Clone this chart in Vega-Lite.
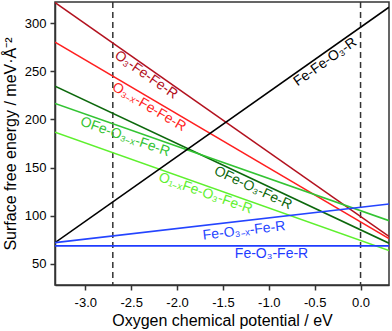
{
  "$schema": "https://vega.github.io/schema/vega-lite/v6.json",
  "width": 334,
  "height": 283,
  "autosize": {"type": "none"},
  "padding": {"left": 55, "top": 2, "right": 3, "bottom": 46},
  "config": {
    "font": "Liberation Sans",
    "view": {"stroke": "#333333", "strokeWidth": 1.5},
    "axis": {
      "grid": false,
      "domainColor": "#333333",
      "domainWidth": 1.5,
      "tickColor": "#333333",
      "tickWidth": 1.5,
      "tickSize": 5,
      "labelColor": "#000000",
      "titleColor": "#000000",
      "labelFontSize": 13,
      "titleFontSize": 16,
      "titleFontWeight": "normal"
    }
  },
  "datasets": {
    "lines": [
      {"series": "O3-Fe-Fe-R", "mu": -3.33, "gamma": 321.4},
      {"series": "O3-Fe-Fe-R", "mu": 0.31, "gamma": 78.5},
      {"series": "O3-x-Fe-Fe-R", "mu": -3.33, "gamma": 280.3},
      {"series": "O3-x-Fe-Fe-R", "mu": 0.31, "gamma": 76.2},
      {"series": "OFe-O3-Fe-R", "mu": -3.33, "gamma": 234.5},
      {"series": "OFe-O3-Fe-R", "mu": 0.31, "gamma": 71.4},
      {"series": "OFe-O3-x-Fe-R", "mu": -3.33, "gamma": 216.6},
      {"series": "OFe-O3-x-Fe-R", "mu": 0.31, "gamma": 94.8},
      {"series": "O1-xFe-O3-Fe-R", "mu": -3.33, "gamma": 186.8},
      {"series": "O1-xFe-O3-Fe-R", "mu": 0.31, "gamma": 63.8},
      {"series": "Fe-Fe-O3-R", "mu": -3.33, "gamma": 72.0},
      {"series": "Fe-Fe-O3-R", "mu": 0.31, "gamma": 316.6},
      {"series": "Fe-O3-x-Fe-R", "mu": -3.33, "gamma": 72.0},
      {"series": "Fe-O3-x-Fe-R", "mu": 0.31, "gamma": 112.1},
      {"series": "Fe-O3-Fe-R", "mu": -3.33, "gamma": 68.6},
      {"series": "Fe-O3-Fe-R", "mu": 0.31, "gamma": 68.6}
    ],
    "labels": [
      {"series": "O3-Fe-Fe-R", "text": "O₃-Fe-Fe-R", "mu": -2.338, "gamma": 246.2},
      {"series": "O3-x-Fe-Fe-R", "text": "O₃₋ₓ-Fe-Fe-R", "mu": -2.306, "gamma": 212.9},
      {"series": "OFe-O3-x-Fe-R", "text": "OFe-O₃₋ₓ-Fe-R", "mu": -2.567, "gamma": 181.8},
      {"series": "O1-xFe-O3-Fe-R", "text": "O₁₋ₓFe-O₃-Fe-R", "mu": -1.69, "gamma": 123.1},
      {"series": "OFe-O3-Fe-R", "text": "OFe-O₃-Fe-R", "mu": -1.172, "gamma": 128.8},
      {"series": "Fe-O3-x-Fe-R", "text": "Fe-O₃₋ₓ-Fe-R", "mu": -1.27, "gamma": 84.1},
      {"series": "Fe-O3-Fe-R", "text": "Fe-O₃-Fe-R", "mu": -0.97, "gamma": 60.7},
      {"series": "Fe-Fe-O3-R", "text": "Fe-Fe-O₃-R", "mu": -0.385, "gamma": 259.5}
    ],
    "refs": [{"mu": -2.7}, {"mu": 0.0}]
  },
  "encoding": {
    "x": {
      "field": "mu", "type": "quantitative",
      "scale": {"domain": [-3.33, 0.31], "nice": false, "zero": false},
      "axis": {
        "title": "Oxygen chemical potential / eV",
        "values": [-3.0, -2.5, -2.0, -1.5, -1.0, -0.5, 0.0],
        "labelExpr": "replace(format(datum.value, '.1f'), '−', '-')",
        "labelPadding": 6,
        "titlePadding": 3
      }
    },
    "y": {
      "field": "gamma", "type": "quantitative",
      "scale": {"domain": [28, 322], "nice": false, "zero": false},
      "axis": {
        "title": "Surface free energy / meV·Å⁻²",
        "values": [50, 100, 150, 200, 250, 300],
        "labelPadding": 4,
        "titlePadding": 6
      }
    },
    "color": {
      "field": "series", "type": "nominal", "legend": null,
      "scale": {
        "domain": ["O3-Fe-Fe-R", "O3-x-Fe-Fe-R", "OFe-O3-Fe-R", "OFe-O3-x-Fe-R", "O1-xFe-O3-Fe-R", "Fe-Fe-O3-R", "Fe-O3-x-Fe-R", "Fe-O3-Fe-R"],
        "range": ["#b3121f", "#ff1f1f", "#0c680c", "#33c433", "#5ef02e", "#000000", "#2444ff", "#1f3cff"]
      }
    }
  },
  "layer": [
    {
      "data": {"name": "refs"},
      "mark": {"type": "rule", "color": "#333333", "strokeWidth": 1.5, "strokeDash": [6, 4]},
      "encoding": {"x": {"field": "mu", "type": "quantitative"}, "y": null, "color": null}
    },
    {
      "data": {"name": "lines"},
      "mark": {"type": "line", "strokeWidth": 1.6, "clip": true},
      "encoding": {"detail": {"field": "series"}}
    },
    {"data": {"name": "labels"}, "transform": [{"filter": "datum.series === 'O3-Fe-Fe-R'"}],
     "mark": {"type": "text", "angle": 35, "fontSize": 14, "align": "center", "baseline": "middle"},
     "encoding": {"text": {"field": "text"}}},
    {"data": {"name": "labels"}, "transform": [{"filter": "datum.series === 'O3-x-Fe-Fe-R'"}],
     "mark": {"type": "text", "angle": 30.5, "fontSize": 14, "align": "center", "baseline": "middle"},
     "encoding": {"text": {"field": "text"}}},
    {"data": {"name": "labels"}, "transform": [{"filter": "datum.series === 'OFe-O3-Fe-R'"}],
     "mark": {"type": "text", "angle": 25.2, "fontSize": 14, "align": "center", "baseline": "middle"},
     "encoding": {"text": {"field": "text"}}},
    {"data": {"name": "labels"}, "transform": [{"filter": "datum.series === 'OFe-O3-x-Fe-R' || datum.series === 'O1-xFe-O3-Fe-R'"}],
     "mark": {"type": "text", "angle": 19.5, "fontSize": 14, "align": "center", "baseline": "middle"},
     "encoding": {"text": {"field": "text"}}},
    {"data": {"name": "labels"}, "transform": [{"filter": "datum.series === 'Fe-Fe-O3-R'"}],
     "mark": {"type": "text", "angle": -35.2, "fontSize": 14, "align": "center", "baseline": "middle"},
     "encoding": {"text": {"field": "text"}}},
    {"data": {"name": "labels"}, "transform": [{"filter": "datum.series === 'Fe-O3-x-Fe-R'"}],
     "mark": {"type": "text", "angle": -6.6, "fontSize": 14, "align": "center", "baseline": "middle"},
     "encoding": {"text": {"field": "text"}}},
    {"data": {"name": "labels"}, "transform": [{"filter": "datum.series === 'Fe-O3-Fe-R'"}],
     "mark": {"type": "text", "angle": 0, "fontSize": 14, "align": "center", "baseline": "middle"},
     "encoding": {"text": {"field": "text"}}}
  ]
}
